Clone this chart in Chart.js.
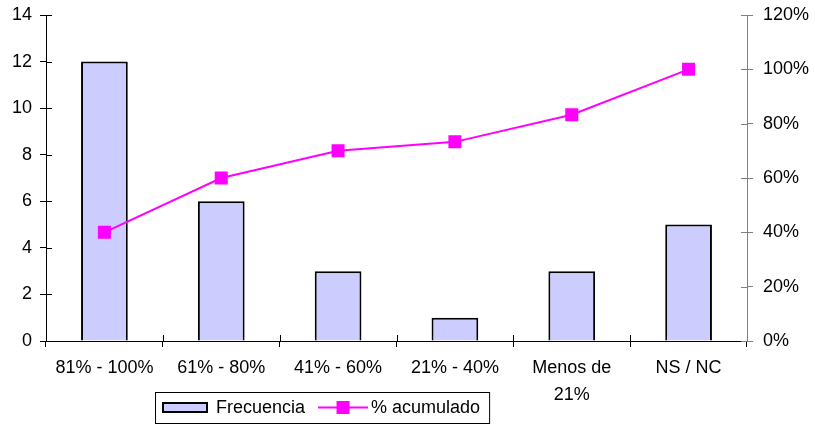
<!DOCTYPE html>
<html>
<head>
<meta charset="utf-8">
<script src="https://cdn.jsdelivr.net/npm/chart.js@4"></script>
<style>
  html, body { margin: 0; padding: 0; background: #fff; }
  #wrap { width: 815px; height: 425px; }
</style>
</head>
<body>
<div id="wrap"><canvas id="c" width="815" height="425"></canvas></div>
<script>
// Categories (percentage ranges) and their counts
const categories = ['81% - 100%', '61% - 80%', '41% - 60%', '21% - 40%', ['Menos de', '21%'], 'NS / NC'];
const frecuencia = [12, 6, 3, 1, 3, 5];
// Cumulative share in percent
const acumulado = [40, 60, 70, 73.3, 83.3, 100];
// Axis ranges
const leftAxis = { min: 0, max: 14, step: 2 };
const rightAxis = { min: 0, max: 120, step: 20 };

const FONT = "'Liberation Sans', Arial, sans-serif";
const FONT_SIZE = 18;
const BAR_FILL = '#CCCCFF';
const LINE_COLOR = '#FF00FF';

Chart.defaults.font.family = FONT;
Chart.defaults.font.size = FONT_SIZE;
Chart.defaults.color = '#000';

// Short tick marks on the inner side of each axis (ticks cross the axis line)
const innerTicks = {
  id: 'innerTicks',
  afterDraw(chart) {
    const ctx = chart.ctx;
    const len = 6;
    const { x, y, y1 } = chart.scales;
    ctx.save();
    ctx.lineWidth = 1;
    ctx.strokeStyle = '#000';
    y.ticks.forEach(t => {
      const py = Math.round(y.getPixelForValue(t.value)) + 0.5;
      ctx.beginPath(); ctx.moveTo(y.right, py); ctx.lineTo(y.right + len, py); ctx.stroke();
    });
    ctx.strokeStyle = '#808080';
    y1.ticks.forEach(t => {
      const py = Math.round(y1.getPixelForValue(t.value)) + 0.5;
      ctx.beginPath(); ctx.moveTo(y1.left - len, py); ctx.lineTo(y1.left, py); ctx.stroke();
    });
    ctx.strokeStyle = '#000';
    for (let i = 1; i < categories.length; i++) {
      const px = Math.round(x.getPixelForValue(i - 0.5)) + 0.5;
      ctx.beginPath(); ctx.moveTo(px, x.top - len); ctx.lineTo(px, x.top); ctx.stroke();
    }
    ctx.restore();
  }
};

// Boxed legend below the axis
const boxedLegend = {
  id: 'boxedLegend',
  afterDraw(chart) {
    const ctx = chart.ctx;
    const [bars, line] = chart.data.datasets;
    ctx.save();
    ctx.font = FONT_SIZE + 'px ' + FONT;
    ctx.textBaseline = 'middle';
    const left = 155, top = 392, h = 31;
    const cy = top + h / 2;
    let cx = left + 7;
    // bar swatch
    ctx.fillStyle = bars.backgroundColor;
    ctx.fillRect(cx, cy - 5.5, 46, 11);
    ctx.strokeStyle = '#000';
    ctx.lineWidth = 2;
    ctx.strokeRect(cx + 1, cy - 4.5, 44, 9);
    cx += 54;
    ctx.fillStyle = '#000';
    ctx.fillText(bars.label, cx, cy + 1);
    cx += ctx.measureText(bars.label).width + 13;
    // line swatch
    ctx.strokeStyle = line.borderColor;
    ctx.lineWidth = 2;
    ctx.beginPath(); ctx.moveTo(cx, cy); ctx.lineTo(cx + 50, cy); ctx.stroke();
    ctx.fillStyle = line.borderColor;
    ctx.fillRect(cx + 25 - 6.5, cy - 6.5, 13, 13);
    cx += 53;
    ctx.fillStyle = '#000';
    ctx.fillText(line.label, cx, cy + 1);
    cx += ctx.measureText(line.label).width + 9;
    ctx.strokeStyle = '#000';
    ctx.lineWidth = 1;
    ctx.strokeRect(left + 0.5, top + 0.5, cx - left, h);
    ctx.restore();
  }
};

new Chart(document.getElementById('c'), {
  data: {
    labels: categories,
    datasets: [
      {
        type: 'bar',
        label: 'Frecuencia',
        data: frecuencia,
        backgroundColor: BAR_FILL,
        borderColor: '#000',
        borderWidth: 2,
        barPercentage: 0.4,
        categoryPercentage: 1,
        yAxisID: 'y',
        order: 2
      },
      {
        type: 'line',
        label: '% acumulado',
        data: acumulado,
        borderColor: LINE_COLOR,
        backgroundColor: LINE_COLOR,
        borderWidth: 2,
        pointStyle: 'rect',
        pointRadius: 9.2,
        pointBorderWidth: 0,
        pointBackgroundColor: LINE_COLOR,
        tension: 0,
        yAxisID: 'y1',
        order: 1
      }
    ]
  },
  options: {
    responsive: false,
    animation: false,
    layout: { padding: { top: 15, left: 0, right: 0, bottom: 0 } },
    plugins: { legend: { display: false }, tooltip: { enabled: false } },
    scales: {
      x: {
        position: 'bottom',
        grid: { drawOnChartArea: false, drawTicks: true, tickLength: 6, color: '#000', offset: true },
        border: { display: true, color: '#000', width: 1 },
        ticks: { padding: 8, maxRotation: 0, autoSkip: false, font: { size: FONT_SIZE, lineHeight: 1.5 } },
        afterFit(s) { s.height = 84; s.paddingLeft = 0; s.paddingRight = 0; }
      },
      y: {
        position: 'left',
        min: leftAxis.min, max: leftAxis.max,
        grid: { drawOnChartArea: false, drawTicks: true, tickLength: 6, color: '#000' },
        border: { display: true, color: '#000', width: 1 },
        ticks: { stepSize: leftAxis.step, padding: 8 },
        afterFit(s) { s.width = 46; s.paddingTop = 0; s.paddingBottom = 0; }
      },
      y1: {
        position: 'right',
        min: rightAxis.min, max: rightAxis.max,
        grid: { drawOnChartArea: false, drawTicks: true, tickLength: 6, color: '#808080' },
        border: { display: true, color: '#808080', width: 1 },
        ticks: { stepSize: rightAxis.step, padding: 10, callback: v => v + '%' },
        afterFit(s) { s.width = 68; s.paddingTop = 0; s.paddingBottom = 0; }
      }
    }
  },
  plugins: [innerTicks, boxedLegend]
});
</script>
</body>
</html>
